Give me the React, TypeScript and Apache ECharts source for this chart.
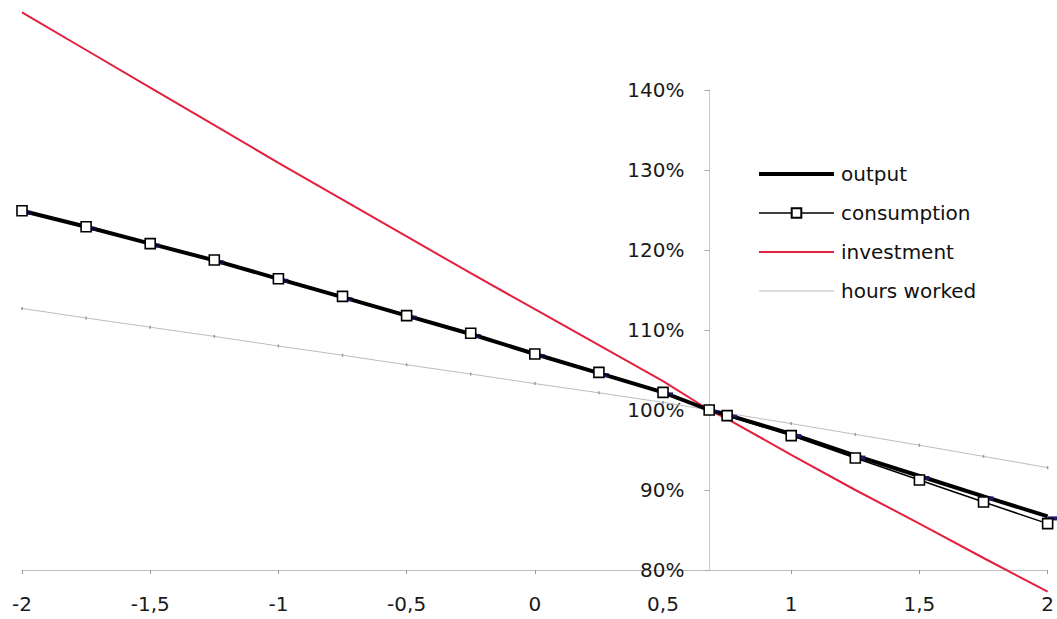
import React, { useEffect, useRef } from "react";
import * as echarts from "echarts";

const X_VALUES = [-2, -1.75, -1.5, -1.25, -1, -0.75, -0.5, -0.25, 0, 0.25, 0.5, 0.68, 0.75, 1, 1.25, 1.5, 1.75, 2];
const OUTPUT = [124.9, 122.9, 120.8, 118.7, 116.4, 114.1, 111.8, 109.5, 107.0, 104.6, 102.2, 100, 99.4, 97.0, 94.3, 91.75, 89.2, 86.7];
const CONSUMPTION = [124.9, 122.9, 120.8, 118.75, 116.4, 114.2, 111.8, 109.6, 107.0, 104.7, 102.2, 100, 99.3, 96.8, 94.0, 91.25, 88.5, 85.8];
const INVESTMENT = [149.7, 145.0, 140.3, 135.6, 130.9, 126.3, 121.7, 117.1, 112.6, 108.1, 103.6, 100, 98.9, 94.4, 90.0, 85.8, 81.5, 77.3];
const HOURS = [112.7, 111.5, 110.35, 109.2, 108.0, 106.85, 105.65, 104.5, 103.3, 102.15, 100.95, 100, 99.6, 98.3, 96.95, 95.6, 94.2, 92.8];

const X_MIN = -2;
const X_MAX = 2;
const X_STEP = 0.5;
const Y_MIN = 80;
const Y_MAX = 140;
const Y_STEP = 10;
const Y_AXIS_CROSS = 0.68;

const W = 1057;
const H = 619;
const GRID = { left: 22, right: 9, top: 90, bottom: 49 };
const FONT = "DejaVu Sans";

const pairs = (ys: number[]) => X_VALUES.map((x, i) => [x, ys[i]]);

export default function App() {
  const ref = useRef<HTMLDivElement>(null);
  useEffect(() => {
    if (!ref.current) return;
    const chart = echarts.init(ref.current, null, { renderer: "svg" });
    const gridW = W - GRID.left - GRID.right;
    const yOffset = -((Y_AXIS_CROSS - X_MIN) / (X_MAX - X_MIN)) * gridW;
    chart.setOption({
      animation: false,
      backgroundColor: "#ffffff",
      grid: { ...GRID, containLabel: false },
      legend: {
        orient: "vertical",
        left: 752,
        top: 159,
        itemWidth: 75,
        itemHeight: 12,
        itemGap: 19,
        data: [
          { name: "output", itemStyle: { opacity: 0 }, lineStyle: { width: 4, color: "#000" } },
          { name: "consumption", lineStyle: { width: 1.5, color: "#000" } },
          { name: "investment", itemStyle: { opacity: 0 }, lineStyle: { width: 2, color: "#e3203e" } },
          { name: "hours worked", itemStyle: { opacity: 0 }, lineStyle: { width: 1, color: "#bdbdbd" } },
        ],
        textStyle: { fontFamily: FONT, fontSize: 20, lineHeight: 20, color: "#111", padding: [0, 0, 0, 2] },
      },
      xAxis: {
        type: "value",
        min: X_MIN,
        max: X_MAX,
        interval: X_STEP,
        splitLine: { show: false },
        axisLine: { onZero: false, lineStyle: { color: "#bdbdbd", width: 1 } },
        axisTick: { show: true, length: 4, lineStyle: { color: "#999" } },
        axisLabel: {
          fontFamily: FONT,
          fontSize: 20,
          color: "#1a1a1a",
          margin: 24,
          formatter: (v: number) => String(v).replace(".", ","),
        },
      },
      yAxis: {
        type: "value",
        position: "left",
        offset: yOffset,
        min: Y_MIN,
        max: Y_MAX,
        interval: Y_STEP,
        splitLine: { show: false },
        axisLine: { show: true, onZero: false, lineStyle: { color: "#c8c8c8", width: 1 } },
        axisTick: { show: true, length: 5, lineStyle: { color: "#aaa" } },
        axisLabel: {
          fontFamily: FONT,
          fontSize: 20,
          color: "#1a1a1a",
          margin: 25,
          formatter: "{value}%",
        },
      },
      series: [
        {
          name: "hours worked",
          type: "line",
          data: pairs(HOURS),
          clip: false,
          symbol: "rect",
          symbolSize: [1.5, 3],
          itemStyle: { color: "#999" },
          lineStyle: { color: "#bdbdbd", width: 1 },
          z: 2,
        },
        {
          name: "investment",
          type: "line",
          data: pairs(INVESTMENT),
          clip: false,
          symbol: "none",
          itemStyle: { color: "#e3203e" },
          lineStyle: { color: "#e3203e", width: 2 },
          z: 3,
        },
        {
          name: "output",
          type: "line",
          data: pairs(OUTPUT),
          clip: false,
          symbol: "rect",
          symbolSize: [10, 4],
          symbolOffset: [5, 2],
          itemStyle: { color: "#1b1b6b" },
          lineStyle: { color: "#000", width: 4 },
          z: 4,
        },
        {
          name: "consumption",
          type: "line",
          data: pairs(CONSUMPTION),
          clip: false,
          symbol: "rect",
          symbolSize: 10,
          itemStyle: { color: "#fff", borderColor: "#000", borderWidth: 1.6 },
          lineStyle: { color: "#000", width: 1.5 },
          z: 5,
        },
      ],
    });
    return () => chart.dispose();
  }, []);
  return (
    <div
      ref={ref}
      style={{ position: "absolute", left: 0, top: 0, width: W, height: H }}
    />
  );
}
